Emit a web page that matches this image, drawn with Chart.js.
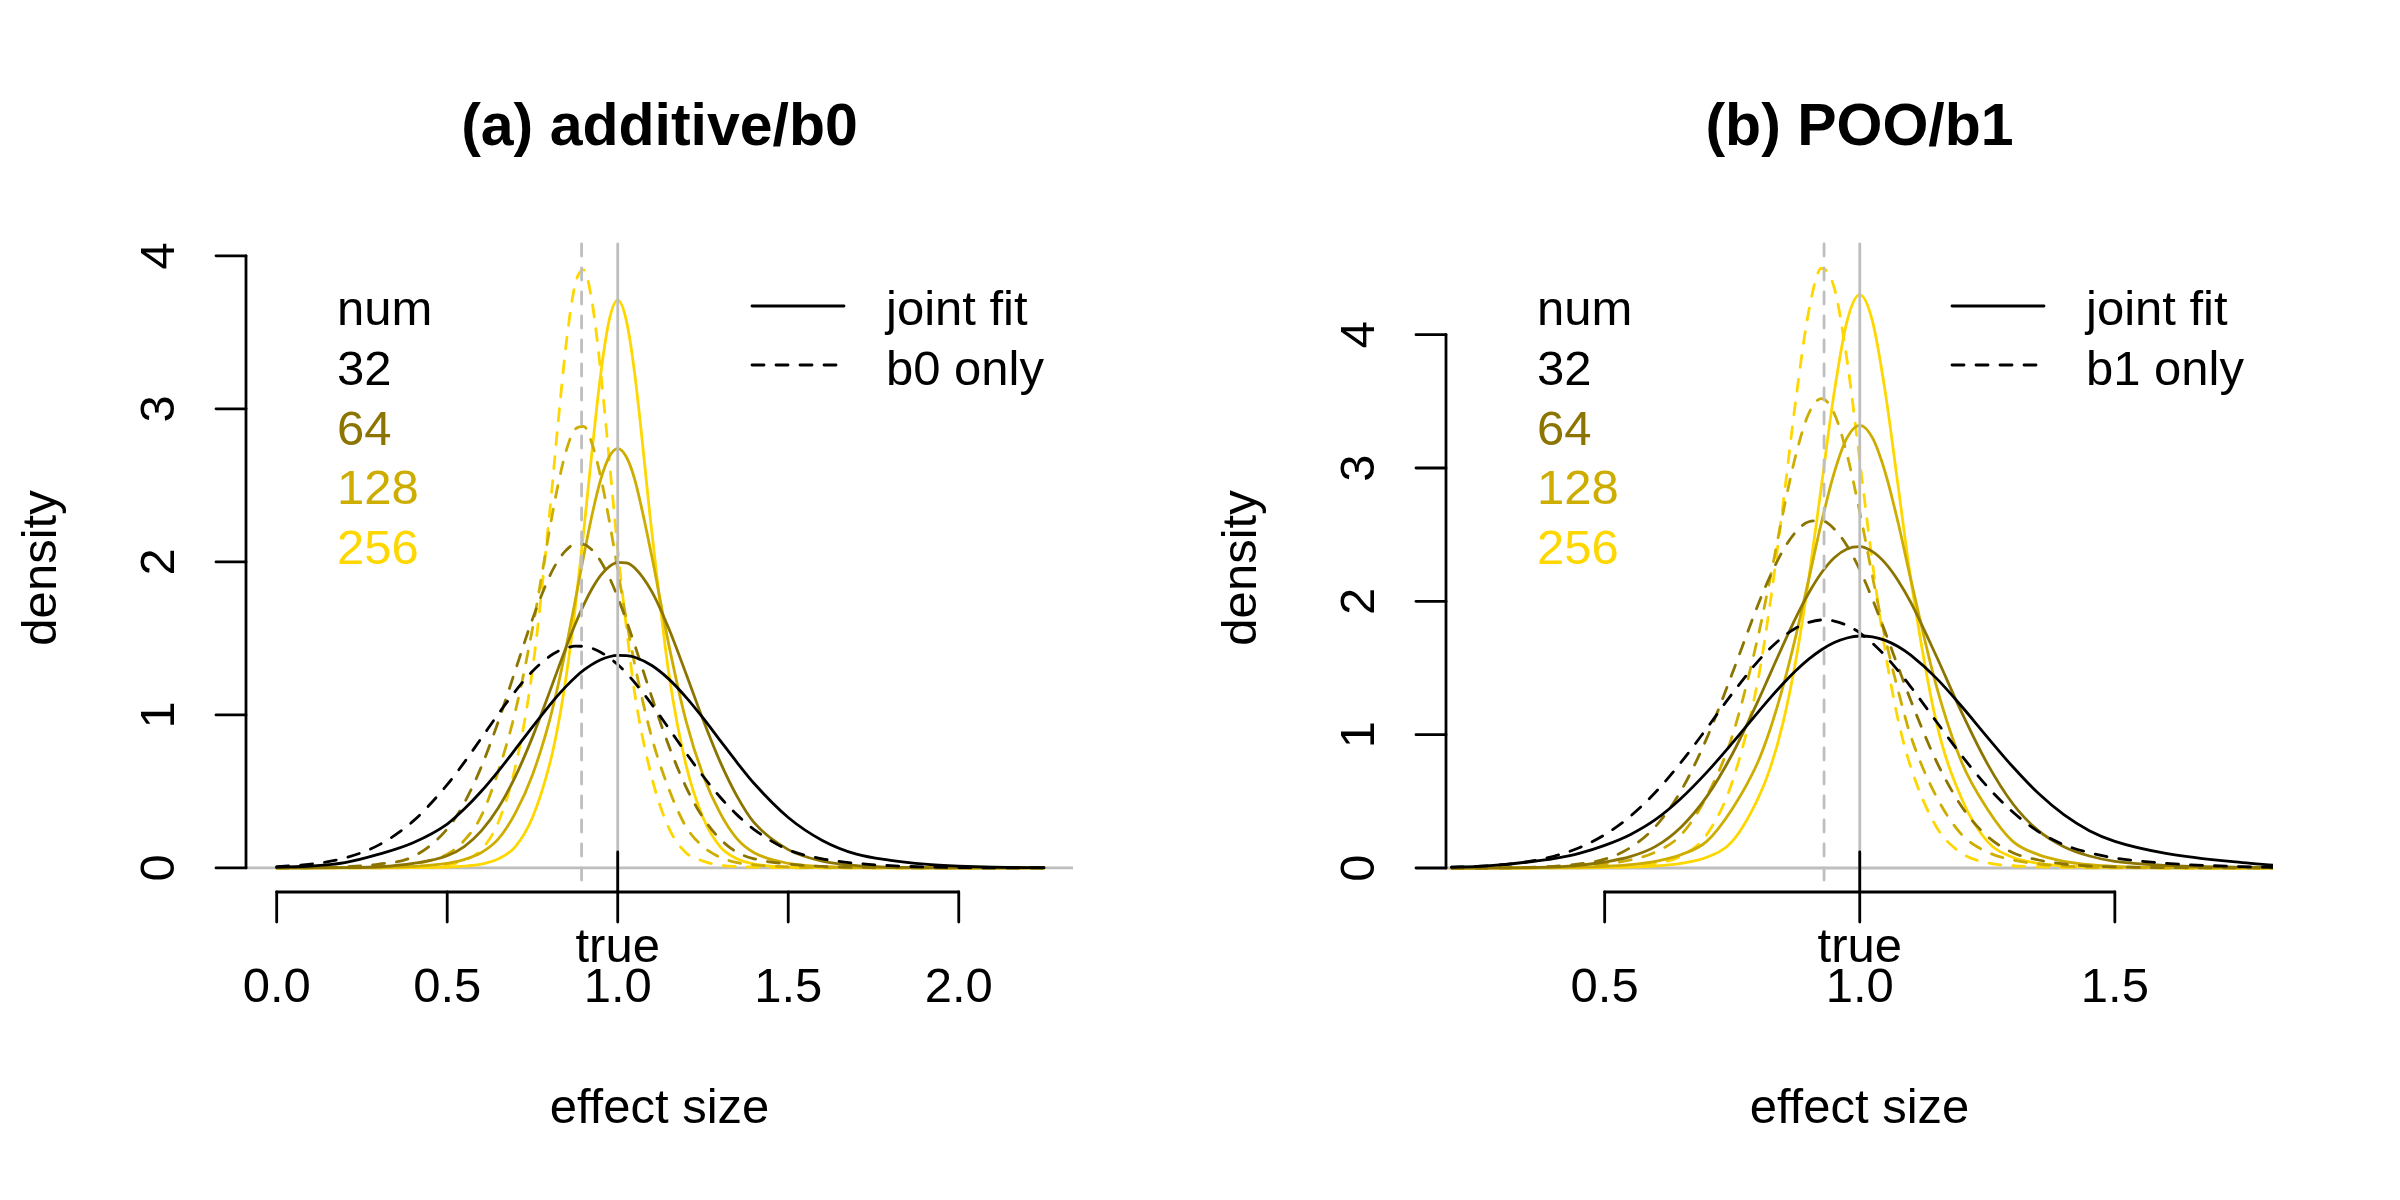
<!DOCTYPE html>
<html>
<head>
<meta charset="utf-8">
<script src="https://cdn.jsdelivr.net/npm/chart.js@4.4.1/dist/chart.umd.min.js"></script>
<style>
  html, body { margin: 0; padding: 0; background: #fff; }
  #wrap { position: relative; width: 2400px; height: 1200px; }
  canvas { position: absolute; top: 0; }
</style>
</head>
<body>
<div id="wrap">
  <canvas id="chartA" width="1200" height="1200" style="left:0px"></canvas>
  <canvas id="chartB" width="1200" height="1200" style="left:1200px"></canvas>
</div>
<script>
const FONT = '"Liberation Sans", Arial, Helvetica, sans-serif';
const GREY = '#BEBEBE';

// sample sizes and their colours
const numLabels = ['32', '64', '128', '256'];
const numColors = ['#000000', '#8B7500', '#CDAD00', '#FFD700'];

// ---- panel (a) additive/b0 : density curves ----
const xA = [0.0, 0.1, 0.2, 0.3, 0.4, 0.5, 0.55, 0.6, 0.65, 0.7, 0.75, 0.8, 0.825, 0.85, 0.875, 0.9, 0.925, 0.95, 0.975, 1.0,
            1.025, 1.05, 1.1, 1.15, 1.2, 1.25, 1.3, 1.35, 1.4, 1.5, 1.6, 1.7, 1.8, 1.9, 2.0, 2.1, 2.25];

const jointA32 = [0.005, 0.013, 0.035, 0.09, 0.165, 0.287, 0.385, 0.501, 0.633, 0.776, 0.922, 1.063, 1.129, 1.19, 1.245, 1.292, 1.33, 1.36, 1.38, 1.389,
                  1.388, 1.377, 1.323, 1.234, 1.116, 0.98, 0.834, 0.689, 0.552, 0.33, 0.18, 0.09, 0.05, 0.025, 0.012, 0.005, 0.002];
const aloneA32 = [0.008, 0.025, 0.065, 0.151, 0.306, 0.544, 0.69, 0.848, 1.007, 1.156, 1.285, 1.382, 1.416, 1.438, 1.449, 1.448, 1.435, 1.41, 1.374, 1.329,
                  1.274, 1.211, 1.068, 0.911, 0.752, 0.601, 0.464, 0.347, 0.251, 0.119, 0.06, 0.03, 0.015, 0.007, 0.003, 0.001, 0];
const jointA64 = [0, 0, 0.002, 0.008, 0.03, 0.08, 0.14, 0.242, 0.393, 0.598, 0.855, 1.149, 1.301, 1.45, 1.591, 1.718, 1.826, 1.912, 1.969, 1.997,
                  1.994, 1.96, 1.806, 1.563, 1.271, 0.97, 0.695, 0.468, 0.296, 0.12, 0.045, 0.015, 0.005, 0.002, 0.001, 0, 0];
const aloneA64 = [0, 0.002, 0.008, 0.025, 0.074, 0.255, 0.425, 0.661, 0.958, 1.293, 1.626, 1.905, 2.008, 2.079, 2.116, 2.115, 2.077, 2.004, 1.9, 1.77,
                  1.619, 1.456, 1.116, 0.797, 0.53, 0.329, 0.19, 0.102, 0.06, 0.025, 0.01, 0.004, 0.002, 0.001, 0, 0, 0];
const jointA128 = [0.001, 0.001, 0.002, 0.004, 0.01, 0.03, 0.055, 0.1, 0.19, 0.36, 0.608, 0.963, 1.194, 1.456, 1.743, 2.035, 2.31, 2.537, 2.687, 2.74,
                   2.687, 2.537, 2.035, 1.456, 0.963, 0.608, 0.36, 0.19, 0.1, 0.03, 0.01, 0.004, 0.002, 0.001, 0.001, 0, 0];
const aloneA128 = [0.001, 0.002, 0.004, 0.008, 0.025, 0.09, 0.18, 0.34, 0.634, 1.025, 1.563, 2.209, 2.504, 2.735, 2.867, 2.886, 2.77, 2.556, 2.271, 1.948,
                   1.625, 1.328, 0.851, 0.516, 0.27, 0.14, 0.07, 0.035, 0.02, 0.007, 0.003, 0.002, 0.001, 0, 0, 0, 0];
const jointA256 = [0, 0, 0, 0, 0.002, 0.006, 0.012, 0.025, 0.06, 0.14, 0.33, 0.675, 0.931, 1.269, 1.694, 2.196, 2.731, 3.225, 3.58, 3.71,
                   3.58, 3.225, 2.196, 1.269, 0.675, 0.33, 0.14, 0.06, 0.025, 0.006, 0.002, 0, 0, 0, 0, 0, 0];
const aloneA256 = [0, 0, 0, 0, 0.005, 0.02, 0.05, 0.12, 0.3, 0.663, 1.293, 2.312, 2.906, 3.446, 3.812, 3.908, 3.694, 3.244, 2.669, 2.08,
                   1.582, 1.138, 0.59, 0.26, 0.1, 0.045, 0.018, 0.009, 0.005, 0.002, 0, 0, 0, 0, 0, 0, 0];

// ---- panel (b) POO/b1 ----
const xB = [0.2, 0.25, 0.3, 0.35, 0.4, 0.45, 0.5, 0.55, 0.6, 0.65, 0.7, 0.75, 0.8, 0.825, 0.85, 0.875, 0.9, 0.925, 0.95, 0.975, 1.0,
            1.025, 1.05, 1.075, 1.1, 1.15, 1.2, 1.25, 1.3, 1.35, 1.4, 1.45, 1.5, 1.6, 1.75, 1.81];

const jointB32 = [0.006, 0.012, 0.025, 0.045, 0.07, 0.11, 0.17, 0.25, 0.364, 0.523, 0.717, 0.936, 1.166, 1.278, 1.384, 1.481, 1.566, 1.637, 1.691, 1.725, 1.74,
                  1.733, 1.707, 1.661, 1.596, 1.424, 1.211, 0.982, 0.759, 0.56, 0.4, 0.28, 0.2, 0.11, 0.04, 0.022];
const aloneB32 = [0.006, 0.012, 0.025, 0.048, 0.088, 0.152, 0.249, 0.387, 0.57, 0.794, 1.047, 1.308, 1.548, 1.65, 1.735, 1.8, 1.842, 1.86, 1.852, 1.819, 1.764,
                  1.686, 1.591, 1.48, 1.359, 1.099, 0.842, 0.611, 0.42, 0.273, 0.175, 0.115, 0.075, 0.035, 0.01, 0.005];
const jointB64 = [0, 0, 0.001, 0.003, 0.008, 0.02, 0.045, 0.085, 0.162, 0.308, 0.535, 0.853, 1.248, 1.462, 1.675, 1.879, 2.062, 2.214, 2.327, 2.393, 2.41,
                  2.373, 2.287, 2.157, 1.992, 1.59, 1.165, 0.783, 0.482, 0.28, 0.16, 0.09, 0.05, 0.02, 0.006, 0.003];
const aloneB64 = [0, 0, 0.001, 0.004, 0.012, 0.03, 0.066, 0.152, 0.313, 0.582, 0.972, 1.459, 1.968, 2.195, 2.385, 2.522, 2.597, 2.605, 2.543, 2.417, 2.237,
                  2.015, 1.768, 1.511, 1.256, 0.802, 0.46, 0.238, 0.115, 0.06, 0.03, 0.015, 0.008, 0.003, 0.001, 0];
const jointB128 = [0, 0.001, 0.001, 0.002, 0.003, 0.006, 0.012, 0.025, 0.05, 0.1, 0.2, 0.443, 0.791, 1.048, 1.367, 1.745, 2.165, 2.593, 2.966, 3.226, 3.32,
                   3.226, 2.966, 2.593, 2.165, 1.367, 0.791, 0.443, 0.2, 0.1, 0.05, 0.025, 0.012, 0.003, 0.001, 0];
const aloneB128 = [0, 0.001, 0.002, 0.004, 0.007, 0.014, 0.03, 0.06, 0.12, 0.25, 0.537, 0.989, 1.725, 2.185, 2.671, 3.102, 3.409, 3.52, 3.409, 3.102, 2.671,
                   2.185, 1.725, 1.334, 0.989, 0.537, 0.25, 0.12, 0.06, 0.03, 0.014, 0.007, 0.004, 0.002, 0.001, 0];
const jointB256 = [0, 0, 0, 0, 0.001, 0.002, 0.004, 0.007, 0.015, 0.035, 0.08, 0.2, 0.517, 0.755, 1.096, 1.564, 2.168, 2.87, 3.569, 4.1, 4.3,
                   4.1, 3.569, 2.87, 2.168, 1.096, 0.517, 0.2, 0.08, 0.035, 0.015, 0.007, 0.004, 0.001, 0, 0];
const aloneB256 = [0, 0, 0.001, 0.001, 0.002, 0.004, 0.007, 0.015, 0.035, 0.09, 0.25, 0.645, 1.399, 2.003, 2.739, 3.522, 4.175, 4.498, 4.351, 3.811, 3.055,
                   2.285, 1.624, 1.114, 0.756, 0.31, 0.11, 0.04, 0.017, 0.008, 0.004, 0.002, 0.001, 0, 0, 0];

// axis ticks
const yTicks = [0, 1, 2, 3, 4];
const xTicksA = [0, 0.5, 1, 1.5, 2];
const xTickLabelsA = ['0.0', '0.5', '1.0', '1.5', '2.0'];
const xTicksB = [0.5, 1, 1.5];
const xTickLabelsB = ['0.5', '1.0', '1.5'];

// true value and mean of the single-parameter fits (grey reference lines)
const trueValue = 1;
const aloneMeanA = 0.894;
const aloneMeanB = 0.93;

const panels = [
  {
    id: 'chartA', title: '(a) additive/b0', aloneName: 'b0 only',
    x: xA, joint: [jointA32, jointA64, jointA128, jointA256], alone: [aloneA32, aloneA64, aloneA128, aloneA256],
    xMin: -0.09, xMax: 2.335, yMin: -0.157, yMax: 4.077,
    ticks: xTicksA, tickLabels: xTickLabelsA, aloneMean: aloneMeanA
  },
  {
    id: 'chartB', title: '(b) POO/b1', aloneName: 'b1 only',
    x: xB, joint: [jointB32, jointB64, jointB128, jointB256], alone: [aloneB32, aloneB64, aloneB128, aloneB256],
    xMin: 0.189, xMax: 1.81, yMin: -0.18, yMax: 4.68,
    ticks: xTicksB, tickLabels: xTickLabelsB, aloneMean: aloneMeanB
  }
];

const LW = 2.8;
const DASH = [12, 12];

function seg(ctx, x1, y1, x2, y2) {
  ctx.beginPath();
  ctx.moveTo(x1, y1);
  ctx.lineTo(x2, y2);
  ctx.stroke();
}

function rotatedText(ctx, txt, x, y) {
  ctx.save();
  ctx.translate(x, y);
  ctx.rotate(-Math.PI / 2);
  ctx.textAlign = 'center';
  ctx.textBaseline = 'alphabetic';
  ctx.fillText(txt, 0, 0);
  ctx.restore();
}

function makeAxesPlugin(p) {
  return {
    id: 'rStyle',
    beforeDatasetsDraw(chart) {
      const { ctx, chartArea: a, scales: { y } } = chart;
      ctx.save();
      ctx.strokeStyle = GREY;
      ctx.lineWidth = LW;
      const y0 = y.getPixelForValue(0);
      seg(ctx, a.left, y0, a.right, y0);
      ctx.restore();
    },
    afterDatasetsDraw(chart) {
      const { ctx, chartArea: a, scales: { x, y } } = chart;
      ctx.save();
      ctx.lineCap = 'round';

      // grey reference lines
      ctx.strokeStyle = GREY;
      ctx.lineWidth = LW;
      const xt = x.getPixelForValue(trueValue);
      seg(ctx, xt, a.top, xt, a.bottom);
      ctx.setLineDash(DASH);
      const xm = x.getPixelForValue(p.aloneMean);
      seg(ctx, xm, a.top, xm, a.bottom);
      ctx.setLineDash([]);

      // black tick at the true value
      ctx.strokeStyle = '#000';
      seg(ctx, xt, a.bottom, xt, a.bottom - 40);

      // y axis
      const yTop = y.getPixelForValue(yTicks[yTicks.length - 1]);
      const yBot = y.getPixelForValue(yTicks[0]);
      seg(ctx, a.left, yBot, a.left, yTop);
      yTicks.forEach(t => {
        const py = y.getPixelForValue(t);
        seg(ctx, a.left - 30, py, a.left, py);
      });

      // x axis
      const x1 = x.getPixelForValue(p.ticks[0]);
      const x2 = x.getPixelForValue(p.ticks[p.ticks.length - 1]);
      seg(ctx, x1, a.bottom, x2, a.bottom);
      p.ticks.forEach(t => {
        const px = x.getPixelForValue(t);
        seg(ctx, px, a.bottom, px, a.bottom + 30);
      });

      // text
      ctx.fillStyle = '#000';
      ctx.font = '49px ' + FONT;
      ctx.textAlign = 'center';
      ctx.textBaseline = 'alphabetic';
      p.ticks.forEach((t, i) => {
        ctx.fillText(p.tickLabels[i], x.getPixelForValue(t), 1002);
      });
      ctx.fillText('true', xt, 962);
      const cx = (a.left + a.right) / 2;
      ctx.fillText('effect size', cx, 1123);
      yTicks.forEach(t => rotatedText(ctx, String(t), a.left - 72, y.getPixelForValue(t)));
      rotatedText(ctx, 'density', 56, (a.top + a.bottom) / 2);

      ctx.font = 'bold 59px ' + FONT;
      ctx.fillText(p.title, cx, 145);

      // legend: sample sizes
      ctx.font = '49px ' + FONT;
      ctx.textAlign = 'left';
      ctx.fillText('num', a.left + 91, 325);
      numLabels.forEach((lab, i) => {
        ctx.fillStyle = numColors[i];
        ctx.fillText(lab, a.left + 91, 385 + i * 59.7);
      });

      // legend: line types
      ctx.fillStyle = '#000';
      ctx.strokeStyle = '#000';
      seg(ctx, a.left + 506, 306, a.left + 598, 306);
      ctx.setLineDash(DASH);
      seg(ctx, a.left + 506, 365, a.left + 598, 365);
      ctx.setLineDash([]);
      ctx.fillText('joint fit', a.left + 640, 325);
      ctx.fillText(p.aloneName, a.left + 640, 385);

      ctx.restore();
    }
  };
}

function buildDatasets(p) {
  const sets = [];
  for (let i = 0; i < numLabels.length; i++) {
    const common = {
      borderColor: numColors[i],
      borderWidth: LW,
      pointRadius: 0,
      fill: false,
      cubicInterpolationMode: 'monotone',
      borderCapStyle: 'round',
      borderJoinStyle: 'round'
    };
    sets.push(Object.assign({ label: 'joint ' + numLabels[i], data: p.x.map((v, k) => ({ x: v, y: p.joint[i][k] })) }, common));
    sets.push(Object.assign({ label: p.aloneName + ' ' + numLabels[i], data: p.x.map((v, k) => ({ x: v, y: p.alone[i][k] })), borderDash: DASH }, common));
  }
  return sets;
}

panels.forEach(p => {
  new Chart(document.getElementById(p.id), {
    type: 'line',
    data: { datasets: buildDatasets(p) },
    options: {
      responsive: false,
      animation: false,
      devicePixelRatio: 1,
      layout: { padding: { left: 246, right: 127, top: 244, bottom: 308 } },
      plugins: { legend: { display: false }, tooltip: { enabled: false }, title: { display: false } },
      scales: {
        x: { type: 'linear', min: p.xMin, max: p.xMax, display: false },
        y: { type: 'linear', min: p.yMin, max: p.yMax, display: false }
      }
    },
    plugins: [makeAxesPlugin(p)]
  });
});
</script>
</body>
</html>
